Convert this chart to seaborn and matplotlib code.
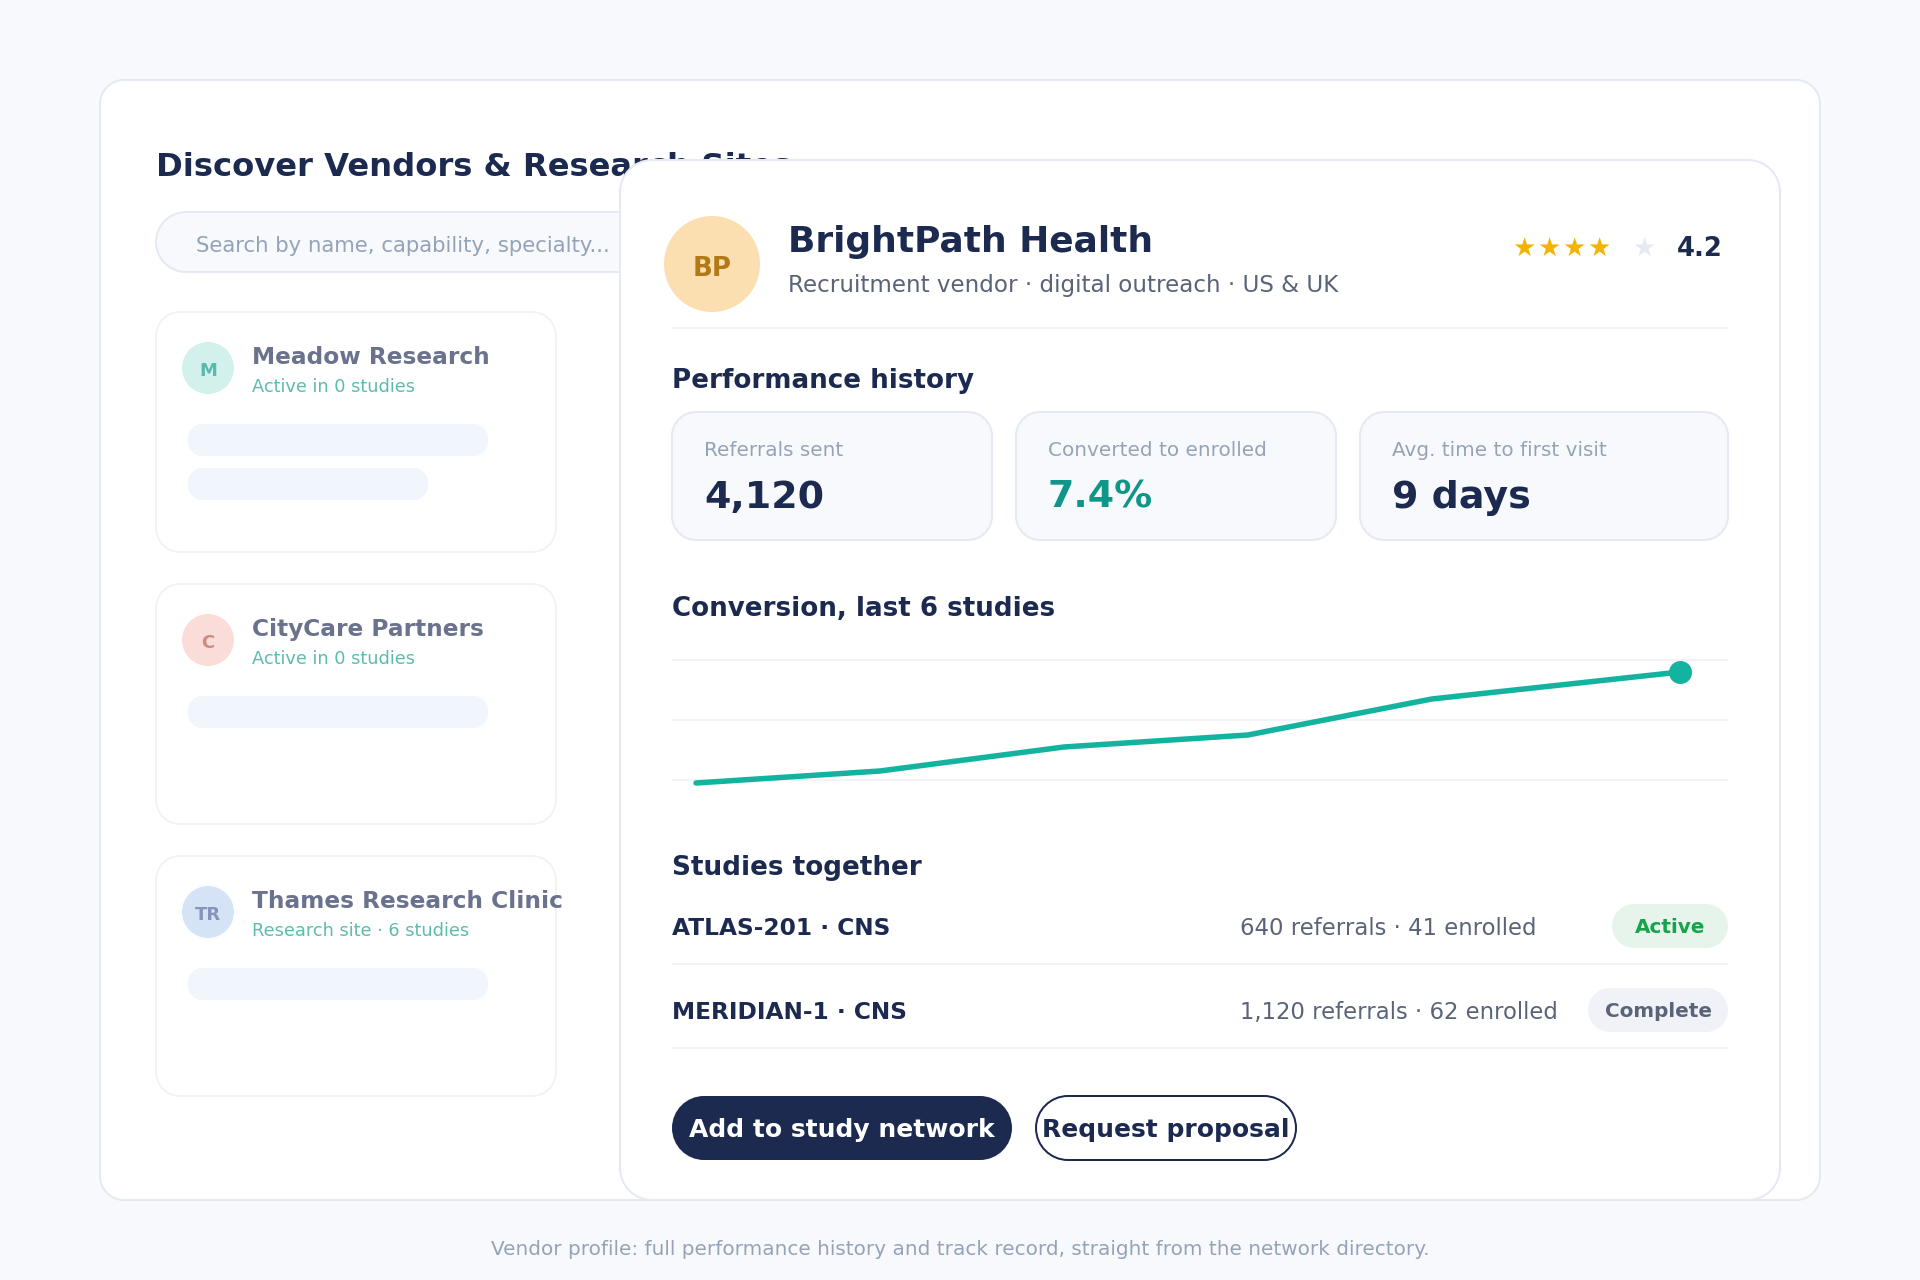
import matplotlib
matplotlib.use("Agg")
import matplotlib.pyplot as plt
import seaborn as sns
from matplotlib.patches import Circle, PathPatch, Rectangle
from matplotlib.path import Path

sns.set_theme(style="white")
plt.rcParams["font.family"] = ["DejaVu Sans"]

# Vendor directory on the left
vendor_names = ["Meadow Research", "CityCare Partners", "Thames Research Clinic"]
vendor_subs = ["Active in 0 studies", "Active in 0 studies", "Research site · 6 studies"]
vendor_initials = ["M", "C", "TR"]
vendor_fill = ["#d3f1ec", "#fadcd8", "#d5e3f7"]
vendor_ink = ["#5ab8ad", "#cf8a80", "#8494bb"]

# Stat tiles
stat_labels = ["Referrals sent", "Converted to enrolled", "Avg. time to first visit"]
stat_values = ["4,120", "7.4%", "9 days"]
stat_colors = ["#1b2a4e", "#0f9688", "#1b2a4e"]

# Conversion chart (percent)
study_pos = [0, 1, 2, 3, 4, 5.35]
conversion = [3.9, 4.3, 5.1, 5.5, 6.7, 7.6]
grid_levels = [4, 6, 8]

# Studies table
study_names = ["ATLAS-201 · CNS", "MERIDIAN-1 · CNS"]
study_counts = ["640 referrals · 41 enrolled", "1,120 referrals · 62 enrolled"]
study_status = ["Active", "Complete"]

NAVY = "#1b2a4e"
BG = "#f7f9fc"
EDGE = "#e5e9f2"
SOFT = "#f1f3f8"
SLATE = "#5a6478"
MUTED = "#94a3b8"
TEAL = "#14b3a0"


def px(size):
    return size * 0.72


fig = plt.figure(figsize=(19.2, 12.8), dpi=100, facecolor=BG)
ax = fig.add_axes([0, 0, 1, 1])
ax.set_xlim(0, 1920)
ax.set_ylim(1280, 0)
ax.axis("off")


def box(x, y, w, h, r, fill, edge="none", lw=2, z=1):
    # rounded rectangle with true circular corners
    k = r * 0.4477
    x2, y2 = x + w, y + h
    verts = [(x + r, y), (x2 - r, y),
             (x2 - k, y), (x2, y + k), (x2, y + r), (x2, y2 - r),
             (x2, y2 - k), (x2 - k, y2), (x2 - r, y2), (x + r, y2),
             (x + k, y2), (x, y2 - k), (x, y2 - r), (x, y + r),
             (x, y + k), (x + k, y), (x + r, y), (x + r, y)]
    C = Path.CURVE4
    L = Path.LINETO
    codes = [Path.MOVETO, L, C, C, C, L, C, C, C, L, C, C, C, L, C, C, C, Path.CLOSEPOLY]
    ax.add_patch(PathPatch(Path(verts, codes), facecolor=fill, edgecolor=edge,
                           linewidth=px(lw), zorder=z))


def label(x, y, s, size, color, bold=False, ha="left", z=3):
    ax.text(x, y, s, fontsize=px(size), color=color, ha=ha, va="baseline",
            fontweight="bold" if bold else "normal", zorder=z)


# Background panel and left side
box(100, 80, 1720, 1120, 24, "white", EDGE)
label(156, 176, "Discover Vendors & Research Sites", 32.3, NAVY, bold=True)
box(156, 212, 700, 60, 30, BG, EDGE)
label(196, 252, "Search by name, capability, specialty...", 21.3, MUTED)

card_tops = [312, 584, 856]
pill_widths = [[300, 240], [300], [300]]
for i, top in enumerate(card_tops):
    box(156, top, 400, 240, 24, "white", SOFT)
    ax.add_patch(Circle((208, top + 56), 26, facecolor=vendor_fill[i], edgecolor="none", zorder=2))
    label(208, top + 64, vendor_initials[i], 18, vendor_ink[i], bold=True, ha="center")
    label(252, top + 52, vendor_names[i], 23.2, "#6a728e", bold=True)
    label(252, top + 80, vendor_subs[i], 17.8, "#5cbcb0")
    for j, w in enumerate(pill_widths[i]):
        box(188, top + 112 + j * 44, w, 32, 14, "#f1f5fc")

# Detail card on top
box(620, 160, 1160, 1040, 32, "white", EDGE, z=4)
Z = 6
ax.add_patch(Circle((712, 264), 48, facecolor="#fbdfb0", edgecolor="none", zorder=Z))
label(712, 276, "BP", 26, "#b27a16", bold=True, ha="center", z=Z)
label(788, 252, "BrightPath Health", 36, NAVY, bold=True, z=Z)
label(788, 292, "Recruitment vendor · digital outreach · US & UK", 23, SLATE, z=Z)

star_x = [1524, 1549, 1574, 1599, 1644]
star_colors = ["#f5b301", "#f5b301", "#f5b301", "#f5b301", EDGE]
for sx, sc in zip(star_x, star_colors):
    label(sx, 256, "★", 26, sc, ha="center", z=Z)
label(1677, 256, "4.2", 26, NAVY, bold=True, z=Z)


def rule(y):
    ax.add_patch(Rectangle((672, y - 1), 1056, 2, facecolor=SOFT, edgecolor="none", zorder=Z))


rule(328)
label(672, 388, "Performance history", 26.1, NAVY, bold=True, z=Z)

tile_x = [672, 1016, 1360]
tile_w = [320, 320, 368]
for i in range(3):
    box(tile_x[i], 412, tile_w[i], 128, 24, BG, EDGE, z=5)
    label(tile_x[i] + 32, 456, stat_labels[i], 20, MUTED, z=Z)
    label(tile_x[i] + 32, 508, stat_values[i], 38, stat_colors[i], bold=True, z=Z)

label(672, 616, "Conversion, last 6 studies", 26.15, NAVY, bold=True, z=Z)

# Line chart in its own axes, spanning the rule width
ax_line = fig.add_axes([672 / 1920, 1 - 800 / 1280, 1056 / 1920, 160 / 1280], zorder=10)
ax_line.patch.set_alpha(0)
sns.lineplot(x=study_pos, y=conversion, ax=ax_line, color=TEAL, linewidth=px(5.5),
             solid_capstyle="round", solid_joinstyle="miter", zorder=3)
sns.scatterplot(x=study_pos[-1:], y=conversion[-1:], ax=ax_line, color=TEAL, s=275, linewidth=0, zorder=4)
ax_line.set_xlim(-24 / 184, 5.35 + 48 / 184)
ax_line.set_ylim(4 - 20 / 30, 8 + 20 / 30)
ax_line.set_yticks(grid_levels)
ax_line.set_xticks([])
ax_line.set_yticklabels([])
ax_line.tick_params(left=False)
ax_line.grid(axis="y", color=SOFT, linewidth=px(2))
ax_line.set_axisbelow(True)
sns.despine(ax=ax_line, left=True, bottom=True)

label(672, 875, "Studies together", 26.2, NAVY, bold=True, z=Z)

row_base = [936, 1020]
row_rule = [964, 1048]
pill_x = [1612, 1588]
pill_fill = ["#e6f4ec", "#f0f2f7"]
pill_ink = ["#16a34a", SLATE]
for i in range(2):
    label(672, row_base[i] - 1, study_names[i], 23.3, NAVY, bold=True, z=Z)
    label(1240, row_base[i] - 1, study_counts[i], 22.8, SLATE, z=Z)
    box(pill_x[i], row_base[i] - 32, 1728 - pill_x[i], 44, 22, pill_fill[i], z=5)
    label((pill_x[i] + 1728) / 2, row_base[i] - 3, study_status[i], 20, pill_ink[i], bold=True, ha="center", z=Z)
    rule(row_rule[i])

box(672, 1096, 340, 64, 32, NAVY, z=5)
label(842, 1137, "Add to study network", 25, "white", bold=True, ha="center", z=Z)
box(1036, 1096, 260, 64, 32, "white", NAVY, z=5)
label(1166, 1137, "Request proposal", 25, NAVY, bold=True, ha="center", z=Z)

label(960, 1255, "Vendor profile: full performance history and track record, straight from the network directory.",
      20, MUTED, ha="center", z=Z)

fig.savefig("out.png", dpi=100, facecolor=BG)
plt.close(fig)
